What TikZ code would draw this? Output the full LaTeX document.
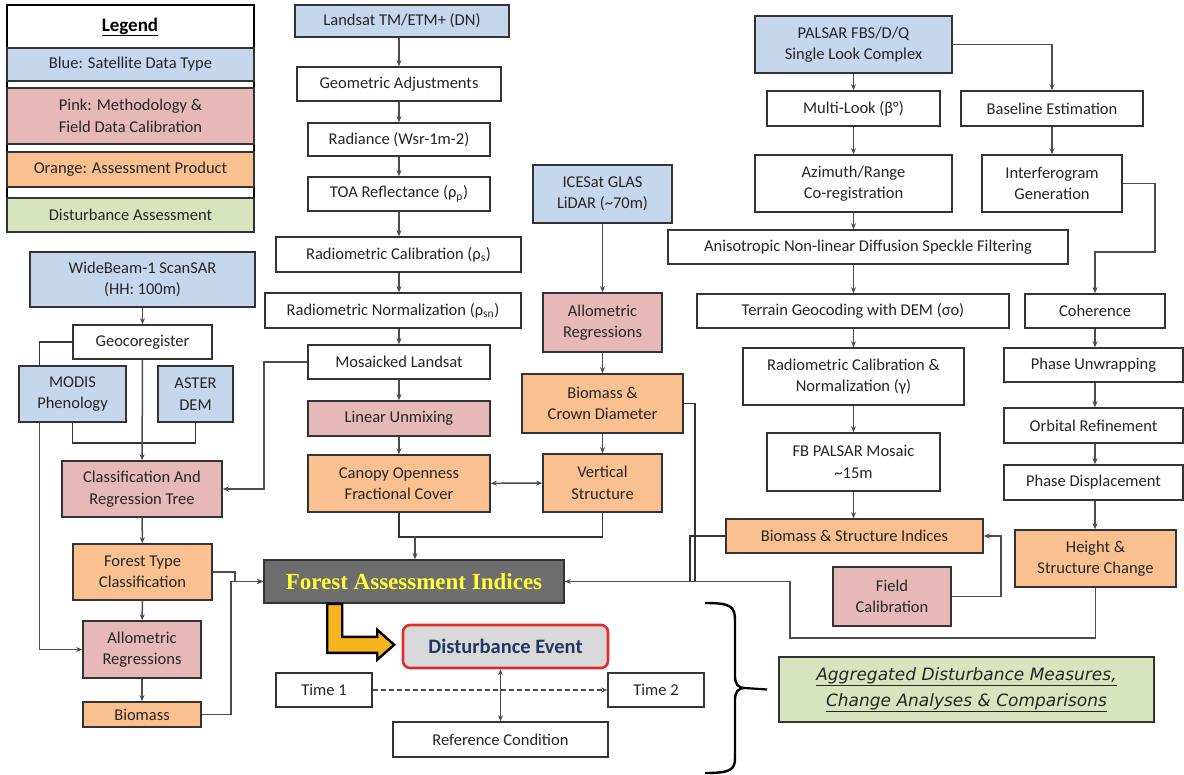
\documentclass[tikz,border=0pt]{standalone}
\usepackage{fontspec}
\setmainfont{Carlito}
\newfontfamily\titleserif{Liberation Serif}
\newfontfamily\obliquesans{DejaVu Sans}
\usetikzlibrary{arrows.meta}
\definecolor{satblue}{RGB}{198,214,236}
\definecolor{methpink}{RGB}{230,185,184}
\definecolor{prodorange}{RGB}{250,192,143}
\definecolor{assessgreen}{RGB}{215,228,189}
\definecolor{indexgray}{RGB}{109,109,109}
\definecolor{indexyellow}{RGB}{255,255,60}
\definecolor{eventred}{RGB}{222,45,45}
\definecolor{eventnavy}{RGB}{31,56,100}
\definecolor{goldarrow}{RGB}{247,180,30}

\begin{document}
\begin{tikzpicture}[x=1pt, y=-1pt,
  font=\fontsize{16.5}{21.5}\selectfont,
  sz/.style 2 args={minimum width=#1, minimum height=#2},
  box/.style={draw=black!80, line width=1.6pt, align=center, inner sep=0pt, text=black!85},
  plain/.style={box, fill=white},
  sat/.style={box, fill=satblue},
  meth/.style={box, fill=methpink},
  prod/.style={box, fill=prodorange},
  assess/.style={box, fill=assessgreen},
  arr/.style={draw=black!70, line width=1.5pt, -{Stealth[length=6pt,width=5pt]}},
  dbl/.style={arr, {Stealth[length=6pt,width=5pt]}-{Stealth[length=6pt,width=5pt]}},
  link/.style={draw=black!80, line width=1.5pt}]
  \useasboundingbox (0,0) rectangle (1184,775);

  % legend
  \draw[line width=2pt] (7,5) rectangle (254,232);
  \node[font=\fontsize{19}{22}\selectfont\bfseries] (legtitle) at (130,27) {\underline{Legend}};
  \node[sat, sz={247}{33}] (legsat) at (130.5,64.5) {Blue: Satellite Data Type};
  \node[meth, sz={247}{56}] (legmeth) at (130.5,116) {Pink: Methodology \&\\Field Data Calibration};
  \node[prod, sz={247}{35}] (legprod) at (130.5,169.5) {Orange: Assessment Product};
  \node[assess, sz={247}{34}] (legdist) at (130.5,215) {Disturbance Assessment};

  % ScanSAR column
  \node[sat, sz={225}{55}] (wide) at (142.5,279.5) {WideBeam-1 ScanSAR\\(HH: 100m)};
  \node[plain, sz={139}{34}] (geocor) at (142.5,342) {Geocoregister};
  \node[sat, sz={107}{56}] (modis) at (72.5,394) {MODIS\\Phenology};
  \node[sat, sz={75}{56}] (aster) at (195.5,394) {ASTER\\DEM};
  \node[meth, sz={160}{56}] (cart) at (142,489) {Classification And\\Regression Tree};
  \node[prod, sz={139}{56}] (ftype) at (142.5,572) {Forest Type\\Classification};
  \node[meth, sz={118}{57}] (allomL) at (142,649.5) {Allometric\\Regressions};
  \node[prod, sz={118}{25}] (biomL) at (142,714.5) {Biomass};

  % Landsat column
  \node[sat, sz={214}{32}] (landsat) at (402,21) {Landsat TM/ETM+ (DN)};
  \node[plain, sz={204}{34}] (geom) at (399,84) {Geometric Adjustments};
  \node[plain, sz={182}{33}] (rad) at (399,139.5) {Radiance (Wsr-1m-2)};
  \node[plain, sz={182}{34}] (toa) at (399,194) {TOA Reflectance (ρ\textsubscript{p})};
  \node[plain, sz={245}{35}] (rcal) at (398.5,254.5) {Radiometric Calibration (ρ\textsubscript{s})};
  \node[plain, sz={256}{35}] (rnorm) at (393,310.5) {Radiometric Normalization (ρ\textsubscript{sn})};
  \node[plain, sz={182}{34}] (mosaic) at (399,362) {Mosaicked Landsat};
  \node[meth, sz={182}{35}] (linun) at (399,418.5) {Linear Unmixing};
  \node[prod, sz={182}{57}] (canopy) at (399,483.5) {Canopy Openness\\Fractional Cover};

  % ICESat column
  \node[sat, sz={139}{58}] (ices) at (602.5,194) {ICESat GLAS\\LiDAR (\textasciitilde70m)};
  \node[meth, sz={119}{59}] (allomI) at (602.5,322.5) {Allometric\\Regressions};
  \node[prod, sz={161}{59}] (biocr) at (602.5,403.5) {Biomass \&\\Crown Diameter};
  \node[prod, sz={119}{58}] (vert) at (602.5,483) {Vertical\\Structure};

  % PALSAR column
  \node[sat, sz={197}{57}] (palsar) at (853.5,44.5) {PALSAR FBS/D/Q\\Single Look Complex};
  \node[plain, sz={173}{35}] (multi) at (853.5,108.5) {Multi-Look (β°)};
  \node[plain, sz={197}{57}] (azim) at (853.5,183.5) {Azimuth/Range\\Co-registration};
  \node[plain, sz={400}{34}] (aniso) at (868,247) {Anisotropic Non-linear Diffusion Speckle Filtering};
  \node[plain, sz={312}{34}] (terrain) at (853,311) {Terrain Geocoding with DEM (σo)};
  \node[plain, sz={221}{57}] (radcal) at (853.5,376.5) {Radiometric Calibration \&\\Normalization (γ)};
  \node[plain, sz={173}{58}] (fbmos) at (853.5,462) {FB PALSAR Mosaic\\\textasciitilde15m};
  \node[prod, sz={257}{34}] (bsi) at (854.5,536) {Biomass \& Structure Indices};
  \node[meth, sz={118}{59}] (field) at (892,596.5) {Field\\Calibration};

  % interferometry column
  \node[plain, sz={182}{35}] (base) at (1052,108.5) {Baseline Estimation};
  \node[plain, sz={140}{57}] (interf) at (1052,183.5) {Interferogram\\Generation};
  \node[plain, sz={140}{34}] (coh) at (1095,311) {Coherence};
  \node[plain, sz={179}{34}] (phun) at (1093.5,365) {Phase Unwrapping};
  \node[plain, sz={179}{35}] (orb) at (1093.5,425.5) {Orbital Refinement};
  \node[plain, sz={179}{35}] (phd) at (1093.5,482.5) {Phase Displacement};
  \node[prod, sz={161}{57}] (hsc) at (1095.5,558.5) {Height \&\\Structure Change};

  % assessment
  \node[box, fill=indexgray, sz={300}{43}, text=indexyellow,
        font=\titleserif\bfseries\fontsize{23}{26}\selectfont] (fai) at (414,581.5) {Forest Assessment Indices};
  \node[box, fill=black!15, draw=eventred, line width=2.6pt, rounded corners=7, sz={205}{43},
        text=eventnavy, font=\bfseries\fontsize{20.5}{23}\selectfont] (dist) at (505.5,646.5) {Disturbance Event};
  \node[plain, sz={96}{34}] (t1) at (324,690) {Time 1};
  \node[plain, sz={96}{34}] (t2) at (656,690) {Time 2};
  \node[plain, sz={215}{35}] (refc) at (500.5,739.5) {Reference Condition};
  \node[assess, sz={375}{65}, font=\obliquesans\itshape\fontsize{17}{26}\selectfont] (green) at (966.5,689.5)
    {\underline{Aggregated Disturbance Measures,}\\\underline{Change Analyses \& Comparisons}};

  % ScanSAR links
  \draw[arr] (wide) -- (geocor);
  \draw[link] (geocor.west) -| ([xshift=-33]modis.north);
  \draw[arr] ([xshift=-33]modis.south) |- (allomL.west);
  \draw[link] (modis.south) -- ++(0,20) -| (aster.south);
  \draw[arr] (geocor) -- (cart);
  \foreach \a/\b in {cart/ftype, ftype/allomL, allomL/biomL}
    \draw[arr] (\a) -- (\b);
  \draw[arr] (ftype.east) -- ++(22,0) |- (fai.west);
  \draw[arr] (biomL.east) -- ++(29,0) |- (fai.west);

  % Landsat links
  \foreach \a/\b in {landsat/geom, geom/rad, rad/toa, toa/rcal, rcal/rnorm, rnorm/mosaic, mosaic/linun, linun/canopy}
    \draw[arr] (\a.south -| geom) -- (\b.north -| geom);
  \draw[arr] (mosaic.west) -- ++(-43,0) |- (cart.east);
  \draw[link] (canopy.south) -- ++(0,24) -| (vert.south);
  \coordinate (canjoin) at (415,536);
  \draw[arr] (canjoin) -- (canjoin |- fai.north);
  \draw[dbl] (canopy) -- (vert);

  % ICESat links
  \foreach \a/\b in {ices/allomI, allomI/biocr, biocr/vert}
    \draw[arr] (\a) -- (\b);
  \draw[link] (biocr.east) -- ++(11,0) |- (fai.east);
  \draw[link] (bsi.west) -- ++(-35,0) |- (fai.east);
  \coordinate (hscbend) at (790,638);
  \draw[arr] (hsc.south) |- (hscbend) |- (fai.east);

  % PALSAR links
  \foreach \a/\b in {palsar/multi, multi/azim, azim/aniso, aniso/terrain, terrain/radcal, radcal/fbmos, fbmos/bsi}
    \draw[arr] (\a.south -| palsar) -- (\b.north -| palsar);
  \draw[arr] (palsar.east) -| (base.north);
  \draw[arr] (base) -- (interf);
  \draw[arr] (interf.east) -| ++(32,68.5) -| (coh.north);
  \foreach \a/\b in {coh/phun, phun/orb, orb/phd, phd/hsc}
    \draw[arr] (\a.south -| coh) -- (\b.north -| coh);
  \draw[arr] (field.east) -- ++(49,0) |- (bsi.east);

  % disturbance
  \draw[fill=goldarrow, line width=2.4pt, line join=miter] ([xshift=64]fai.south west)
    -- ++(15,0) -- ++(0,33) -- ++(35,0) -- ++(0,-7) -- ++(17,15) -- ++(-17,15) -- ++(0,-7) -- ++(-50,0) -- cycle;
  \draw[arr, dash pattern=on 5pt off 3pt] (t1) -- (t2);
  \draw[dbl] (dist.south -| refc) -- (refc.north);

  % brace
  \coordinate (brtip) at (745,688);
  \draw[line width=2.4pt] (705,603) .. controls (730,603) and (735,606) .. (735,620) -- (735,676)
    .. controls (735,684) and (738,688) .. (brtip) .. controls (738,688) and (735,692) .. (735,700)
    -- (735,758) .. controls (735,770) and (730,773) .. (705,773);
  \draw[line width=2.2pt] (brtip) -- ([xshift=-11]green.west);
\end{tikzpicture}
\end{document}
